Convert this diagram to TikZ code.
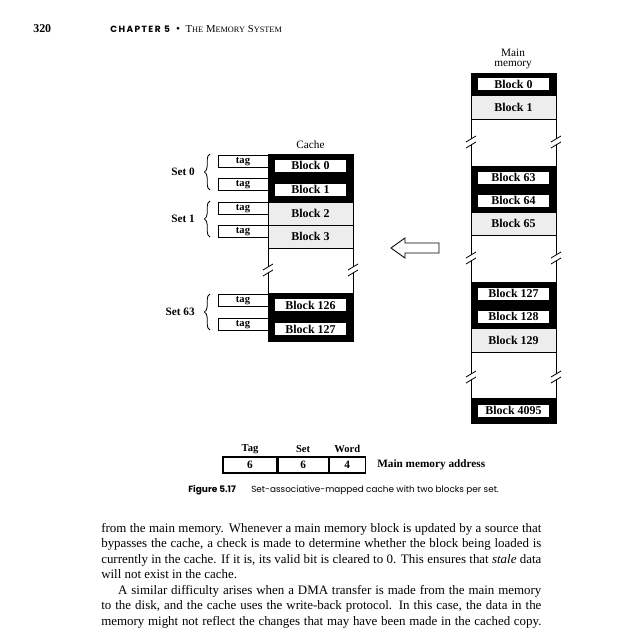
\documentclass[tikz,border=0pt]{standalone}
\usepackage{fontspec}
\setmainfont{Liberation Serif}
\setsansfont{Poppins}
\usetikzlibrary{decorations.pathreplacing}

\tikzset{
  band/.style={draw=black,line width=0.4pt,minimum width=2.125cm,inner sep=0pt,outer sep=0pt},
  dark band/.style={band,fill=black},
  light band/.style={band,fill=gray!14},
  dark lbl/.style={fill=white,draw=black,line width=0.3pt,inner sep=0pt,minimum width=1.8cm,minimum height=0.32cm,font=\fontsize{8.5}{9}\selectfont\bfseries},
  light lbl/.style={inner sep=0pt,font=\fontsize{8.5}{9}\selectfont\bfseries},
  tagbox/.style={draw=black,line width=0.6pt,minimum width=1.25cm,minimum height=0.28cm,inner sep=0pt,font=\fontsize{7.5}{8}\selectfont\bfseries},
  setbrace/.style={decorate,decoration={brace,amplitude=4pt},line width=0.6pt},
  setlbl/.style={anchor=east,inner sep=0pt,font=\fontsize{8}{9}\selectfont\bfseries},
  field/.style={draw=black,line width=0.8pt,minimum height=0.4cm,inner sep=0pt,font=\fontsize{8}{9}\selectfont\bfseries},
  fieldlbl/.style={inner sep=0pt,font=\fontsize{7.5}{9}\selectfont\bfseries},
  plain/.style={inner sep=0pt,font=\fontsize{8}{9}\selectfont},
}
% break mark on a column edge
\newcommand{\colbreak}[2]{%
  \fill[white] (#1-2,#2-3) rectangle (#1+2,#2+3);
  \draw[line width=0.6pt] (#1-5,#2) -- (#1+5,#2-6);
  \draw[line width=0.6pt] (#1-5,#2+6) -- (#1+5,#2);}
% fake small caps for the running head
\newcommand{\hsc}[2]{{\fontsize{7.6}{9}\selectfont #1}{\fontsize{5.9}{9}\selectfont #2}}

\begin{document}
\begin{tikzpicture}[x=0.025cm,y=-0.025cm]
\useasboundingbox[fill=white] (0,0) rectangle (640,640);

% running head
\node[anchor=west,inner sep=0pt,font=\fontsize{8.5}{9}\selectfont\bfseries] (pagenum) at (33,29) {320};
\node[anchor=west,inner sep=0pt,font=\sffamily\bfseries\fontsize{6.4}{9}\selectfont\addfontfeatures{LetterSpace=16}] (chap) at (110,29) {CHAPTER 5};
\node[anchor=west,inner sep=0pt,font=\fontsize{8}{9}\selectfont] (head) at (chap.east) {\hspace{4pt}\textbullet\hspace{4pt}\hsc{T}{HE} \hsc{M}{EMORY} \hsc{S}{YSTEM}};

% main memory
\node[plain,align=center,font=\fontsize{8}{7.3}\selectfont] (mmlbl) at (513,59) {Main\\memory};
\draw[line width=0.6pt] (471,73) rectangle (556,423);
\foreach \ya/\yb/\kind/\txt/\nm in {73/95/dark/Block 0/mA, 95/119/light/Block 1/mB,
    166/189/dark/Block 63/mC, 189/212/dark/Block 64/mD, 212/235/light/Block 65/mE,
    282/305/dark/Block 127/mF, 305/328/dark/Block 128/mG, 328/352/light/Block 129/mH,
    398/423/dark/Block 4095/mI}{
  \node[\kind\space band,minimum height={(\yb-\ya)*0.025cm}] (\nm) at (513.5,{(\ya+\yb)/2}) {};
  \node[\kind\space lbl] at (\nm) {\txt};
}
\foreach \yy in {142,258,377}{
  \colbreak{471}{\yy}
  \colbreak{556}{\yy}
}

% cache
\node[plain] (cachelbl) at (310.5,145) {Cache};
\draw[line width=0.6pt] (268,154) rectangle (353,341);
\foreach \ya/\yb/\kind/\txt/\nm in {154/177/dark/Block 0/cA, 177/202/dark/Block 1/cB,
    202/225/light/Block 2/cC, 225/248/light/Block 3/cD,
    293/317/dark/Block 126/cE, 317/341/dark/Block 127/cF}{
  \node[\kind\space band,minimum height={(\yb-\ya)*0.025cm}] (\nm) at (310.5,{(\ya+\yb)/2}) {};
  \node[\kind\space lbl] at (\nm) {\txt};
}
\colbreak{268}{270}
\colbreak{353}{270}

% tags
\foreach \yy/\nm in {161.5/tA, 184.5/tB, 208.5/tC, 231.5/tD, 300.5/tE, 324.5/tF}
  \node[tagbox] (\nm) at (243,\yy) {tag};

% sets
\draw[setbrace] (210,190) -- (210,154);
\draw[setbrace] (210,237) -- (210,201);
\draw[setbrace] (210,330) -- (210,294);
\node[setlbl] (s0) at (195,172) {Set 0};
\node[setlbl] (s1) at (195,219) {Set 1};
\node[setlbl] (s63) at (195,312) {Set 63};

% mapping arrow
\draw[line width=0.6pt] (391,248) -- (405,238) -- (405,243) -- (439,243)
  -- (439,253) -- (405,253) -- (405,258) -- cycle;

% address format
\node[field,minimum width=1.35cm] (ftag) at (250,465) {6};
\node[field,minimum width=1.25cm,anchor=west] (fset) at (ftag.east) {6};
\node[field,minimum width=0.9cm,anchor=west] (fword) at (fset.east) {4};
\node[fieldlbl] at (ftag.north |- 0,449) {Tag};
\node[fieldlbl] at (fset.north |- 0,449) {Set};
\node[fieldlbl] at (fword.north |- 0,449) {Word};
\node[plain,anchor=west,font=\fontsize{8}{9}\selectfont\bfseries] (addr) at (377,465) {Main memory address};

% caption
\node[anchor=west,inner sep=0pt,font=\sffamily\bfseries\fontsize{6.4}{8}\selectfont] (fig) at (188,490) {Figure 5.17};
\node[anchor=west,inner sep=0pt,font=\sffamily\fontsize{6.3}{8}\selectfont] (cap) at (251,490) {Set-associative-mapped cache with two blocks per set.};

% body text
\node[anchor=north west,inner sep=0pt,text width=313pt,align=justify,
  font=\fontsize{9.2}{11}\selectfont] (body) at (101,523) {%
from the main memory. Whenever a main memory block is updated by a source that\linebreak
bypasses the cache, a check is made to determine whether the block being loaded is\linebreak
currently in the cache. If it is, its valid bit is cleared to 0. This ensures that \textit{stale} data\linebreak
will not exist in the cache.\par
\hspace*{12pt}A similar difficulty arises when a DMA transfer is made from the main memory\linebreak
to the disk, and the cache uses the write-back protocol. In this case, the data in the\linebreak
memory might not reflect the changes that may have been made in the cached copy.{\parfillskip=0pt\par}};
\end{tikzpicture}
\end{document}
